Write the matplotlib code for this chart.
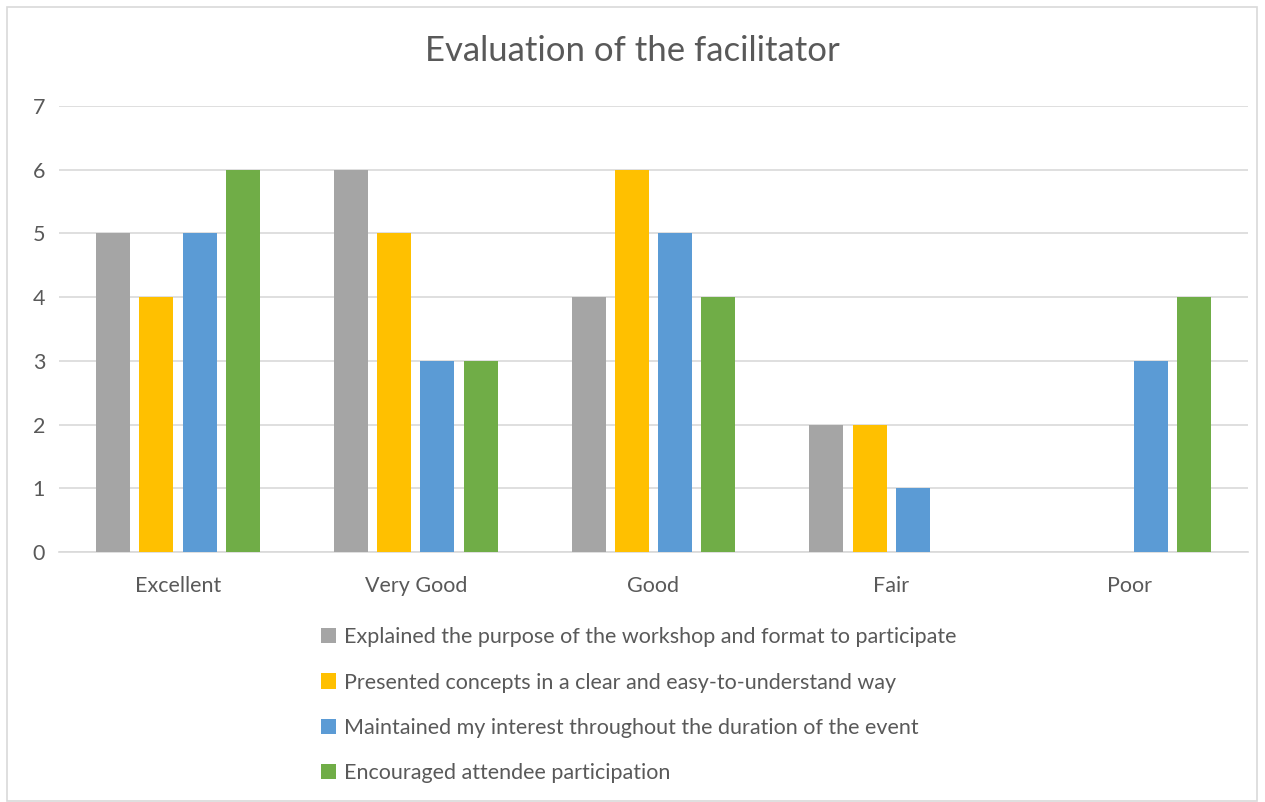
import matplotlib
matplotlib.use("Agg")
import matplotlib.pyplot as plt
import numpy as np
from matplotlib.patches import Rectangle

categories = ["Excellent", "Very Good", "Good", "Fair", "Poor"]
series_names = [
    "Explained the purpose of the workshop and format to participate",
    "Presented concepts in a clear and easy-to-understand way",
    "Maintained my interest throughout the duration of the event",
    "Encouraged attendee participation",
]
explained = [5, 6, 4, 2, 0]
presented = [4, 5, 6, 2, 0]
maintained = [5, 3, 5, 1, 3]
encouraged = [6, 3, 4, 0, 4]
series_values = [explained, presented, maintained, encouraged]
colors = ["#A5A5A5", "#FFC000", "#5B9BD5", "#70AD47"]
yticks = [0, 1, 2, 3, 4, 5, 6, 7]

plt.rcParams['font.family'] = ['Lato', 'DejaVu Sans']
txt = "#595959"

W, H = 1265, 802
fig = plt.figure(figsize=(W / 100, H / 100), dpi=100)
fig.patches.append(Rectangle((7 / W, 1 / H), (W - 8) / W - 7 / W, 1 - 8 / H,
                             transform=fig.transFigure, fill=False,
                             edgecolor="#D9D9D9", linewidth=1.2))

ax = fig.add_axes([59 / W, 1 - 552 / H, (1248 - 59) / W, (552 - 106) / H])
x = np.arange(len(categories))
step = 0.182
width = 0.143
for i, (vals, c, name) in enumerate(zip(series_values, colors, series_names)):
    ax.bar(x + (i - 1.5) * step, vals, width=width, color=c, label=name, zorder=3)

ax.set_xlim(-0.5, len(categories) - 0.5)
ax.set_ylim(0, 7)
ax.set_yticks(yticks)
ax.set_xticks(x)
ax.set_xticklabels(categories)
ax.grid(axis="y", color="#D9D9D9", linewidth=1.2, zorder=0)
for s in ["top", "right", "left"]:
    ax.spines[s].set_visible(False)
ax.spines["bottom"].set_color("#D9D9D9")
ax.spines["bottom"].set_linewidth(1.2)
ax.tick_params(axis="both", length=0, labelsize=15.5, labelcolor=txt)
ax.tick_params(axis="x", pad=17)
ax.tick_params(axis="y", pad=10)

fig.text(0.5, 1 - 51 / H, "Evaluation of the facilitator", ha="center", va="center",
         fontsize=25, color=txt)

handles, labels = ax.get_legend_handles_labels()
leg = fig.legend(handles, labels, loc="upper left", bbox_to_anchor=(302 / W, 1 - 608 / H),
                 frameon=False, fontsize=15.5, labelcolor=txt, handlelength=0.7,
                 handleheight=0.7, handletextpad=0.35, labelspacing=1.17)

fig.savefig("out.png", dpi=100, facecolor="white")
